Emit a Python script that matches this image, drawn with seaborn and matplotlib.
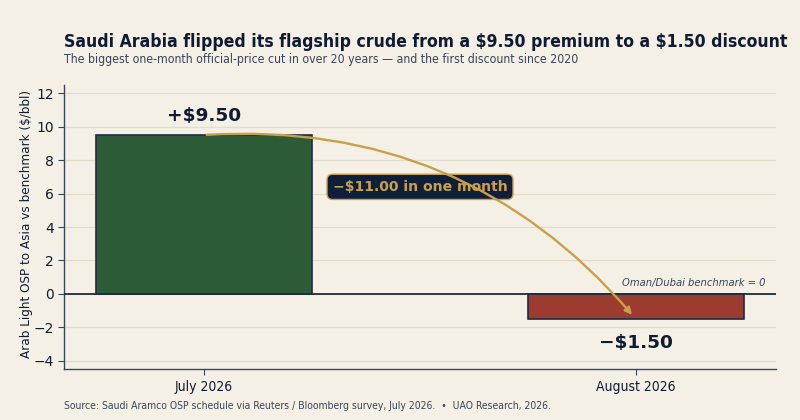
import matplotlib
matplotlib.use("Agg")
import matplotlib.pyplot as plt
import pandas as pd
import seaborn as sns

# OSP differentials vs Oman/Dubai ($/bbl)
months = ["July 2026", "August 2026"]
osp = [9.50, -1.50]
value_labels = ["+\\$9.50", "\u2212\\$1.50"]

BG = "#f5f0e6"
NAVY = "#0f1b33"
GOLD = "#c9a04a"
bar_colors = ["#2d5a37", "#9c3b2f"]

sns.set_style("whitegrid")
plt.rcParams["font.family"] = ["DejaVu Sans"]

df = pd.DataFrame({"month": months, "osp": osp})

fig = plt.figure(figsize=(8, 4.2), dpi=100, facecolor=BG)
ax = fig.add_axes([0.08, 0.121, 0.89, 0.677])
ax.set_facecolor(BG)

sns.barplot(data=df, x="month", y="osp", hue="month", palette=bar_colors, saturation=1,
            width=0.5, edgecolor="#1f2a44", linewidth=1.2, legend=False, ax=ax, zorder=3)

ax.set_xlim(-0.324, 1.324)
ax.set_ylim(-4.5, 12.5)
ax.set_yticks(range(-4, 13, 2))
ax.set_yticklabels([f"\u2212{abs(v)}" if v < 0 else str(v) for v in range(-4, 13, 2)])
ax.grid(axis="y", color="#e4dccb", linewidth=0.9, zorder=0)
ax.grid(axis="x", visible=False)
ax.axhline(0, color="#1f2a44", linewidth=1.3, zorder=4)

for s in ["top", "right"]:
    ax.spines[s].set_visible(False)
for s in ["left", "bottom"]:
    ax.spines[s].set_color("#3a4458")
    ax.spines[s].set_linewidth(1.0)
ax.tick_params(axis="both", colors="#3a4458", labelcolor=NAVY, labelsize=10,
               length=4, width=0.8, left=True, bottom=True)
for lbl in ax.get_xticklabels():
    lbl.set_fontstretch("condensed")
ax.set_xlabel("")
ax.set_ylabel("Arab Light OSP to Asia vs benchmark (\\$/bbl)", fontsize=9.6, color=NAVY,
              fontstretch="condensed")
ax.yaxis.set_label_coords(-0.043, 0.51)

# value labels
ax.text(0, osp[0] + 1.15, value_labels[0], ha="center", va="center",
        fontsize=13.3, fontweight="bold", color=NAVY)
ax.text(1, osp[1] - 1.45, value_labels[1], ha="center", va="center",
        fontsize=13.3, fontweight="bold", color=NAVY)

# label box, then the curved arrow on top of it
ax.text(0.5, 6.4, "\u2212\\$11.00 in one month", ha="center", va="center",
        fontsize=10.1, fontweight="bold", color=GOLD, zorder=5,
        bbox=dict(boxstyle="round,pad=0.4", facecolor="#0f1f3a", edgecolor=GOLD, linewidth=1))
ax.annotate("", xy=(0.995, -1.37), xytext=(0.0, 9.5),
            arrowprops=dict(arrowstyle="-|>", color=GOLD, lw=1.7,
                            connectionstyle="arc3,rad=-0.25", mutation_scale=10),
            zorder=6)

ax.text(1.3, 0.65, "Oman/Dubai benchmark = 0", ha="right", va="center",
        fontsize=7.2, style="italic", color="#3a4458")

fig.text(0.08, 0.9, "Saudi Arabia flipped its flagship crude from a \\$9.50 premium to a \\$1.50 discount",
         fontsize=12.65, fontweight="bold", color=NAVY, ha="left", va="center", fontstretch="condensed")
fig.text(0.08, 0.859, "The biggest one-month official-price cut in over 20 years \u2014 and the first discount since 2020",
         fontsize=8.8, color="#3a4458", ha="left", va="center", fontstretch="condensed")
fig.text(0.08, 0.033, "Source: Saudi Aramco OSP schedule via Reuters / Bloomberg survey, July 2026.  \u2022  UAO Research, 2026.",
         fontsize=7.45, color="#3a4458", ha="left", va="center", fontstretch="condensed")

fig.savefig("out.png", dpi=100, facecolor=BG)
